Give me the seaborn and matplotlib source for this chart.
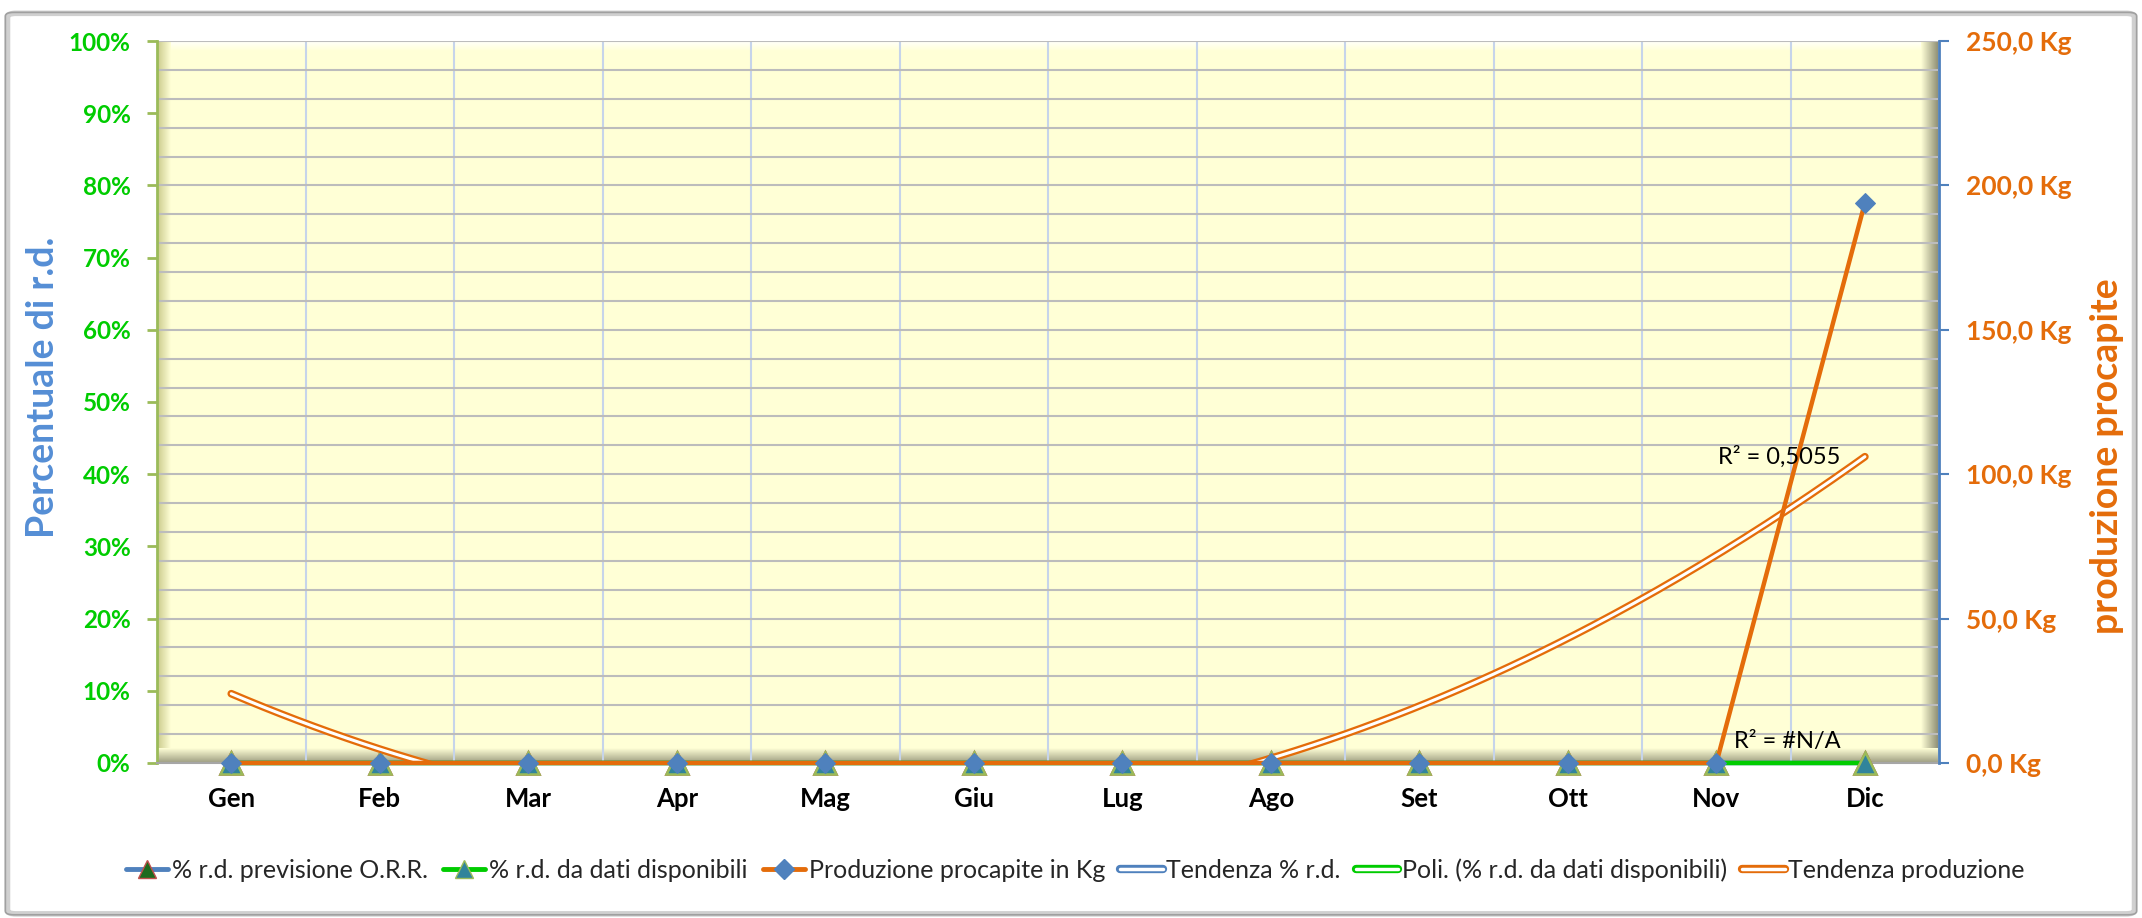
import numpy as np
import matplotlib
matplotlib.use("Agg")
import matplotlib.pyplot as plt
import seaborn as sns
from matplotlib.lines import Line2D
from matplotlib.legend_handler import HandlerTuple
from matplotlib.ticker import FuncFormatter, MultipleLocator, PercentFormatter
from matplotlib.patches import FancyBboxPatch
from matplotlib.colors import to_rgb

# --- data ---
months = ['Gen', 'Feb', 'Mar', 'Apr', 'Mag', 'Giu', 'Lug', 'Ago', 'Set', 'Ott', 'Nov', 'Dic']
rd_previsione = [0.0, 0.0, 0.0, 0.0, 0.0, 0.0, 0.0, 0.0, 0.0, 0.0, 0.0, 0.0]
rd_dati = [0.0, 0.0, 0.0, 0.0, 0.0, 0.0, 0.0, 0.0, 0.0, 0.0, 0.0, 0.0]
produzione_kg = [0.0, 0.0, 0.0, 0.0, 0.0, 0.0, 0.0, 0.0, 0.0, 0.0, 0.0, 194.0]
r2_produzione = 'R² = 0,5055'
r2_dati = 'R² = #N/A'
legend_labels = ['% r.d. previsione O.R.R.', '% r.d. da dati disponibili',
                 'Produzione procapite in Kg', 'Tendenza % r.d.',
                 'Poli. (% r.d. da dati disponibili)', 'Tendenza produzione']

BLUE = '#4f81bd'
GREEN = '#00cc00'
ORANGE = '#e46c0a'
OLIVE = '#9bbb59'
BG = '#ffffd6'

sns.set_style("white")
plt.rcParams['font.family'] = ['Lato', 'DejaVu Sans']


def gradient_strip(ax, extent, c_from, c_to, horizontal):
    t = np.linspace(0, 1, 64)
    c0, c1 = np.array(to_rgb(c_from)), np.array(to_rgb(c_to))
    cols = c0[None, :] * (1 - t[:, None]) + c1[None, :] * t[:, None]
    img = cols[None, :, :] if horizontal else cols[:, None, :]
    ax.imshow(img, extent=extent, transform=ax.transAxes, aspect='auto',
              zorder=0.2, interpolation='bilinear')


fig = plt.figure(figsize=(21.42, 9.18), dpi=100)
fig.subplots_adjust(left=0.0733, right=0.9053, bottom=0.1689, top=0.9553)
ax = fig.add_subplot(111)
ax2 = ax.twinx()

# chart area border
fig.patches.append(FancyBboxPatch((0.0035, 0.0045), 0.993, 0.981,
                                  boxstyle='round,pad=0,rounding_size=0.004',
                                  transform=fig.transFigure, fill=False,
                                  edgecolor='#d0d0d0', lw=4, zorder=0))
fig.patches.append(FancyBboxPatch((0.0025, 0.0035), 0.995, 0.983,
                                  boxstyle='round,pad=0,rounding_size=0.004',
                                  transform=fig.transFigure, fill=False,
                                  edgecolor='#a0a0a0', lw=1.2, zorder=1))

# plot area with bevel
ax.set_facecolor(BG)
gradient_strip(ax, (0, 1, 0.986, 1), '#ffffff', BG, False)
gradient_strip(ax, (0, 0.0075, 0, 1), '#c9c98a', BG, True)
gradient_strip(ax, (0.99, 1, 0, 1), BG, '#8a8a70', True)
gradient_strip(ax, (0, 1, 0, 0.02), BG, '#9c9c80', False)

pos = np.arange(len(months))

# trendlines (polynomial fits, as in the spreadsheet)
xf = np.linspace(0, len(months) - 1, 300)
trend_rd = np.polyval(np.polyfit(pos, rd_previsione, 1), xf)
trend_dati = np.polyval(np.polyfit(pos, rd_dati, 2), xf)
trend_prod = np.polyval(np.polyfit(pos, produzione_kg, 2), xf)

for yv, col in [(trend_rd, BLUE), (trend_dati, GREEN)]:
    ax.plot(xf, yv, color=col, lw=3.0, solid_capstyle='butt', zorder=2)
    ax.plot(xf, yv, color='white', lw=1.2, solid_capstyle='butt', zorder=2.1)

sns.lineplot(x=pos, y=rd_previsione, ax=ax, color=BLUE, lw=3.2, marker='^',
             markersize=16, markerfacecolor='#1e6b1e', markeredgecolor='#c0504d',
             markeredgewidth=1.8, clip_on=False, legend=False, zorder=3)
sns.lineplot(x=pos, y=rd_dati, ax=ax, color=GREEN, lw=3.2, marker='^',
             markersize=16, markerfacecolor='#31849b', markeredgecolor=OLIVE,
             markeredgewidth=1.8, clip_on=False, legend=False, zorder=3.1)

ax2.plot(xf, trend_prod, color=ORANGE, lw=5.5, solid_capstyle='round', zorder=2)
ax2.plot(xf, trend_prod, color='white', lw=2.2, solid_capstyle='round', zorder=2.1)
sns.lineplot(x=pos, y=produzione_kg, ax=ax2, color=ORANGE, lw=3.2, marker='D',
             markersize=10, markerfacecolor=BLUE, markeredgecolor=BLUE,
             clip_on=False, legend=False, zorder=3)

ax2.text(10.42, 106, r2_produzione, ha='center', va='center', fontsize=17, color='black', zorder=4)
ax2.text(10.48, 7.3, r2_dati, ha='center', va='center', fontsize=17, color='black', zorder=4)

# x axis
ax.set_xlim(-0.5, len(months) - 0.5)
ax.set_xticks(pos)
ax.set_xticklabels(months, fontsize=18.5, fontweight='bold', color='black')
ax.set_xticks(np.arange(-0.5, len(months)), minor=True)
ax.tick_params(axis='x', which='major', length=0, pad=17)
ax.tick_params(axis='x', which='minor', length=7, width=1.5, color='#a6a6a6', direction='out')
ax.grid(axis='x', which='minor', color='#c6d4ea', lw=1.5)
ax.grid(axis='x', which='major', visible=False)

# left axis
ax.set_ylim(0, 1)
ax.yaxis.set_major_locator(MultipleLocator(0.1))
ax.yaxis.set_major_formatter(PercentFormatter(1.0, decimals=0))
ax.set_yticks(np.arange(0, 1.001, 0.04), minor=True)
ax.yaxis.remove_overlapping_locs = False
ax.tick_params(axis='y', which='major', length=7, width=2, color=OLIVE, direction='out',
               labelsize=17.5, labelcolor=GREEN, pad=12, left=True)
ax.tick_params(axis='y', which='minor', length=0)
for lab in ax.get_yticklabels():
    lab.set_fontweight('bold')
ax.grid(axis='y', which='minor', color='#bcbcbc', lw=1.5)
ax.grid(axis='y', which='major', visible=False)
ax.set_axisbelow(True)
ax.set_ylabel('Percentuale di r.d.', fontsize=27, fontweight='bold', color='#558ed5')
ax.yaxis.label.set_verticalalignment('center')
ax.yaxis.set_label_coords(-0.064, 0.52)

# right axis
ax2.set_ylim(0, 250)
ax2.yaxis.set_major_locator(MultipleLocator(50))
ax2.yaxis.set_major_formatter(FuncFormatter(lambda v, p: f"{v:.1f} Kg".replace('.', ',')))
ax2.tick_params(axis='y', length=7, width=1.5, color=BLUE, direction='out',
                labelsize=19, labelcolor=ORANGE, pad=12)
for lab in ax2.get_yticklabels():
    lab.set_fontweight('bold')
ax2.set_ylabel('produzione procapite', fontsize=27, fontweight='bold', color=ORANGE, rotation=90)
ax2.yaxis.label.set_verticalalignment('center')
ax2.yaxis.set_label_coords(1.094, 0.425)

for name, sp in ax.spines.items():
    sp.set_visible(name in ('left', 'bottom'))
ax.spines['left'].set_color(OLIVE)
ax.spines['left'].set_linewidth(2)
ax.spines['bottom'].set_color('#a6a6a6')
ax.spines['bottom'].set_linewidth(1.5)
for name, sp in ax2.spines.items():
    sp.set_visible(name == 'right')
ax2.spines['right'].set_color(BLUE)
ax2.spines['right'].set_linewidth(2)

# legend
handles = [
    Line2D([], [], color=BLUE, lw=3.5, marker='^', markersize=13,
           markerfacecolor='#1e6b1e', markeredgecolor='#c0504d'),
    Line2D([], [], color=GREEN, lw=3.5, marker='^', markersize=13,
           markerfacecolor='#31849b', markeredgecolor=OLIVE),
    Line2D([], [], color=ORANGE, lw=3.5, marker='D', markersize=10,
           markerfacecolor=BLUE, markeredgecolor=BLUE),
    (Line2D([], [], color=BLUE, lw=6, solid_capstyle='round'),
     Line2D([], [], color='white', lw=2.5, solid_capstyle='round')),
    (Line2D([], [], color=GREEN, lw=6, solid_capstyle='round'),
     Line2D([], [], color='white', lw=2.5, solid_capstyle='round')),
    (Line2D([], [], color=ORANGE, lw=6, solid_capstyle='round'),
     Line2D([], [], color='white', lw=2.5, solid_capstyle='round')),
]
fig.legend(handles, legend_labels, loc='center', bbox_to_anchor=(0.502, 0.052), ncol=6,
           frameon=False, fontsize=18, handlelength=1.7, handletextpad=0.15,
           columnspacing=0.6, handler_map={tuple: HandlerTuple(ndivide=1)})

fig.savefig('out.png', dpi=100, facecolor='white')
